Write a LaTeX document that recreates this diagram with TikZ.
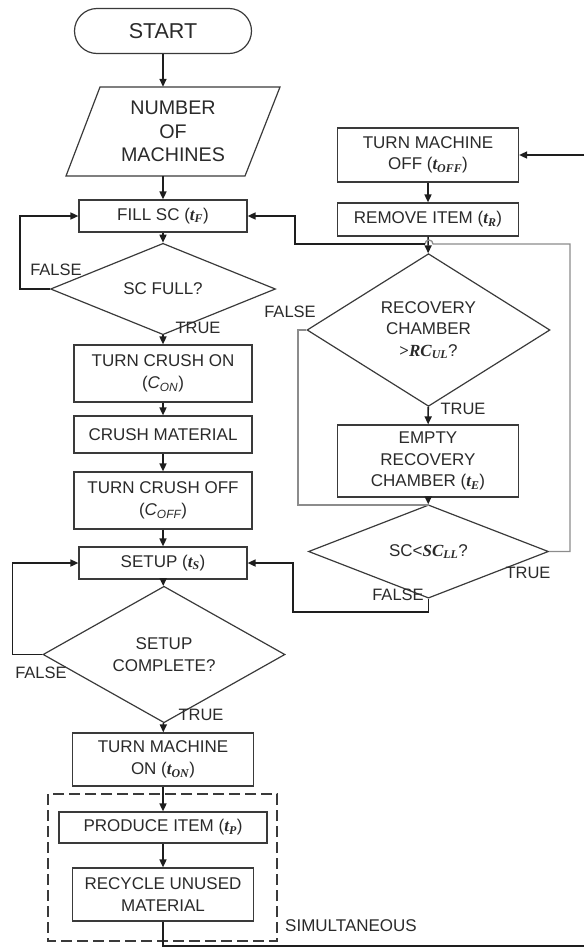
\documentclass[tikz,border=0pt]{standalone}
\usepackage{fontspec}
\setmainfont{Liberation Sans}
\newfontfamily\serifface{Liberation Serif}
\usetikzlibrary{shapes.geometric,shapes.misc,arrows.meta}

\definecolor{boxc}{HTML}{3A3A3A}
\definecolor{linec}{HTML}{1E1E1E}
\definecolor{thinc}{HTML}{8C8C8C}
\definecolor{txt}{HTML}{2A2A2A}

% bold italic serif symbols with subscripts
\newcommand{\bisym}{\serifface\bfseries\itshape}
\newcommand{\tvar}[1]{{\bisym t}\textsubscript{\bisym #1}}
\newcommand{\boxfont}{\fontsize{17}{21.5}\selectfont}
\newcommand{\lblfont}{\fontsize{16.5}{20}\selectfont}

\tikzset{
  box/.style={draw=boxc, line width=1.2pt, inner sep=0pt, align=center,
    text=txt, font=\boxfont},
  dia/.style={diamond, draw=boxc, line width=1.2pt, inner sep=0pt,
    align=center, text=txt, font=\boxfont},
  arr/.style={draw=linec, line width=1.6pt, -{Triangle[length=8pt,width=7pt]}},
  plain/.style={draw=linec, line width=1.6pt},
  faint/.style={draw=thinc, line width=1.3pt},
  lbl/.style={font=\lblfont, text=txt, inner sep=0pt},
}

\begin{document}
\begin{tikzpicture}[x=1pt,y=-1pt]
\useasboundingbox (0,0) rectangle (584,948);

% ---- main column ----
\node[rounded rectangle, draw=boxc, line width=1.2pt, minimum width=177pt,
  minimum height=45pt, inner sep=0pt, text=txt,
  font=\fontsize{21.5}{26}\selectfont] (start) at (163,31) {START};

\draw[boxc, line width=1.2pt] (100,87) -- (280,87) -- (245,176) -- (66,176) -- cycle;
\node[inner sep=0pt, minimum width=180pt, minimum height=89pt, align=center,
  text=txt, font=\fontsize{19.7}{23.3}\selectfont] (num) at (173,131.5)
  {NUMBER\\OF\\MACHINES};

\node[box, minimum width=168pt, minimum height=32pt] (fill) at (163,216)
  {FILL SC (\tvar{F})};
\node[dia, minimum width=225pt, minimum height=62pt] (scfull) at (163,289)
  {SC FULL?};
\node[box, minimum width=178pt, minimum height=57pt] (crushon) at (163,373.5)
  {TURN CRUSH ON\\({\itshape C\textsubscript{ON}})};
\node[box, minimum width=178pt, minimum height=37pt] (crushmat) at (163,434.5)
  {CRUSH MATERIAL};
\node[box, minimum width=178pt, minimum height=57pt] (crushoff) at (163,500.5)
  {TURN CRUSH OFF\\({\itshape C\textsubscript{OFF}})};
\node[box, minimum width=168pt, minimum height=32pt] (setup) at (163,563)
  {SETUP (\tvar{S})};
\node[dia, minimum width=242pt, minimum height=99pt] (setupok) at (164,654.5)
  {SETUP\\COMPLETE?};
\node[box, minimum width=181pt, minimum height=53pt] (machon) at (163,759.5)
  {TURN MACHINE\\ON (\tvar{ON})};
\node[box, minimum width=208pt, minimum height=31pt] (produce) at (163,827.5)
  {PRODUCE ITEM (\tvar{P})};
\node[box, minimum width=181pt, minimum height=53pt] (recycle) at (163,894.5)
  {RECYCLE UNUSED\\MATERIAL};

% simultaneous group
\draw[boxc, line width=1.3pt, dash pattern=on 11pt off 5pt] (48,794) rectangle (277,941);
\node[lbl, font=\boxfont] (simul) at (351,926) {SIMULTANEOUS};

% ---- right column ----
\node[box, minimum width=181pt, minimum height=54pt] (machoff) at (428,155)
  {TURN MACHINE\\OFF (\tvar{OFF})};
\node[box, minimum width=181pt, minimum height=33pt] (remove) at (428,219.5)
  {REMOVE ITEM (\tvar{R})};
\node[dia, minimum width=243pt, minimum height=144pt] (recov) at (428.5,330)
  {RECOVERY\\CHAMBER\\{\serifface\bfseries >}{\bisym RC}\textsubscript{\bisym UL}?};
\node[box, minimum width=181pt, minimum height=72pt] (empty) at (428,461)
  {EMPTY\\RECOVERY\\CHAMBER (\tvar{E})};
\node[dia, minimum width=240pt, minimum height=63pt] (sclow) at (428.5,551.5)
  {SC<{\bisym SC}\textsubscript{\bisym LL}?};

% ---- free ends and bends ----
\coordinate (inr) at (584,155);
\coordinate (outb) at (584,946);
\coordinate (fl) at (298,505);
\coordinate (flt) at (298,330);
\coordinate (ff) at (293,612);
\coordinate (tr) at (570,551.5);
\coordinate (trt) at (570,244);
\coordinate (jr) at (433,244);
\coordinate (jl) at (425,244);
\coordinate (fb) at (295,244);
\coordinate (mrg) at (428.5,505);

% ---- connectors, main column ----
\draw[arr] (start.south) -- (start.south |- num.north);
\draw[arr] (num.south -| fill.north) -- (fill.north);
\draw[arr] (fill) -- (scfull);
\draw[arr] (scfull.west) -- ++(-30,0) |- (fill.west);
\draw[arr] (scfull) -- (crushon);
\draw[arr] (crushon) -- (crushmat);
\draw[arr] (crushmat) -- (crushoff);
\draw[arr] (crushoff) -- (setup);
\draw[arr] (setup) -- (setupok);
\draw[arr] (setupok.west) -- ++(-30,0) |- (setup.west);
\draw[arr] (setupok) -- (machon);
\draw[arr] (machon) -- (produce);
\draw[arr] (produce) -- (recycle);
\draw[plain] (recycle.south) |- (outb);

% ---- connectors, right column ----
\draw[arr] (inr) -- (machoff.east);
\draw[arr] (machoff) -- (remove);
\draw[arr] (remove) -- (recov);
\draw[arr] (recov) -- (empty);
\draw[arr] (empty) -- (sclow);
\draw[faint] (recov.west) -- (flt) -- (fl) -- (mrg);
\draw[arr] (sclow.south) |- (ff) |- (setup.east);
\draw[faint] (sclow.east) -- (tr) -- (trt) -- (jr)
  arc[start angle=0, end angle=-180, radius=4];
\draw[arr] (jl) -- (fb) |- (fill.east);

% ---- branch labels ----
\node[lbl] (f1) at (56,270) {FALSE};
\node[lbl] (t1) at (198,328) {TRUE};
\node[lbl] (f2) at (41,673) {FALSE};
\node[lbl] (t2) at (201,715) {TRUE};
\node[lbl] (f3) at (290,312) {FALSE};
\node[lbl] (t3) at (463,409) {TRUE};
\node[lbl] (t4) at (528,573) {TRUE};
\node[lbl] (f4) at (398,595) {FALSE};
\end{tikzpicture}
\end{document}
